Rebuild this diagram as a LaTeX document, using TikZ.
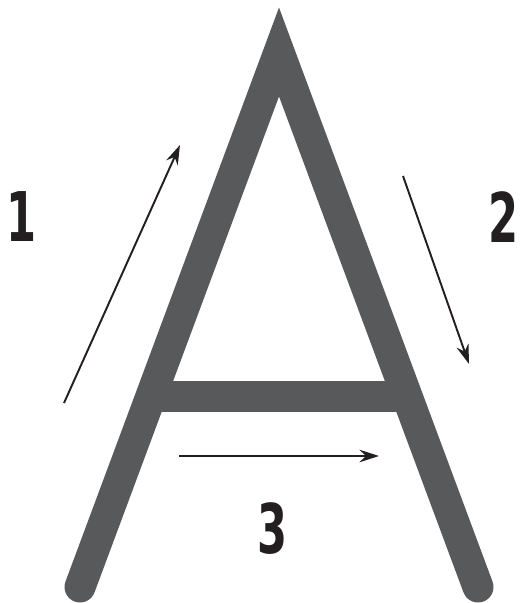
\documentclass[tikz,border=0pt]{standalone}
\usepackage{fontspec}
\usepackage{tikz}
\usetikzlibrary{arrows.meta}
\newfontfamily\numfont{DejaVu Sans Condensed}
\definecolor{slate}{RGB}{88,89,91}
\definecolor{ink}{RGB}{35,31,32}
\tikzset{
  >={Stealth[length=3.9mm,width=2.5mm]},
  leg/.style={draw=slate,line width=6.2mm,line cap=round,line join=miter},
  bar/.style={draw=slate,line width=6.2mm},
  move/.style={->,draw=ink,line width=1.1pt},
  num/.style={font=\numfont\bfseries\fontsize{39}{39}\selectfont,text=ink,inner sep=0pt},
}
\begin{document}
\begin{tikzpicture}[x=0.2mm,y=-0.2mm]
  \useasboundingbox (0,0) rectangle (526,603);
  % the letter
  \coordinate (foot l) at (80,587);
  \coordinate (apex) at (279,52);
  \coordinate (foot r) at (478,587);
  \coordinate (bar l) at (151,396);
  \coordinate (bar r) at (407,396);
  \draw[leg] (foot l) -- (apex) -- (foot r);
  \draw[bar] (bar l) -- (bar r);
  % stroke order
  \coordinate (s1) at (64,403);
  \coordinate (e1) at (180,145);
  \coordinate (s2) at (403,176);
  \coordinate (e2) at (469,364);
  \coordinate (s3) at (179,456);
  \coordinate (e3) at (379,456);
  \draw[move] (s1) -- (e1);
  \draw[move] (s2) -- (e2);
  \draw[move] (s3) -- (e3);
  \node[num] (n1) at (22,217) {\scalebox{0.7}[1]{1}};
  \node[num] (n2) at (504,217) {\scalebox{0.7}[1]{2}};
  \node[num] (n3) at (273,529) {\scalebox{0.7}[1]{3}};
\end{tikzpicture}
\end{document}
